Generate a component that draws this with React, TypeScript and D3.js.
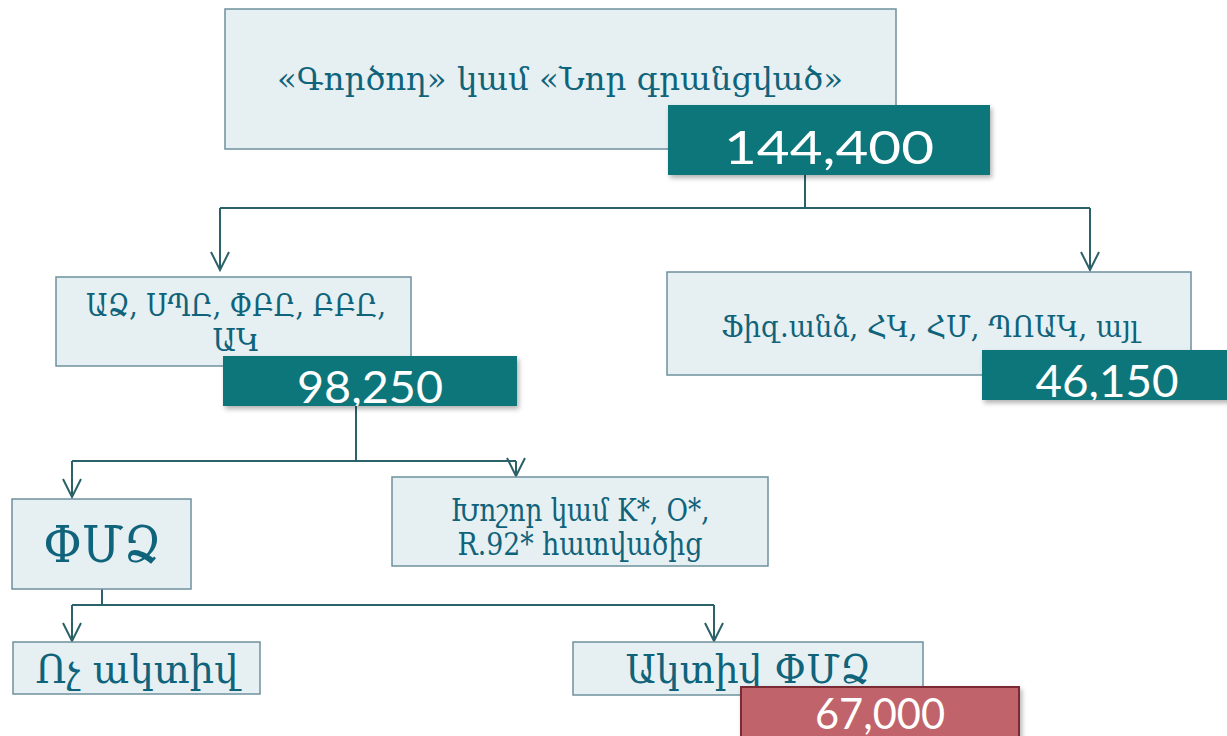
import React from "react";
import * as d3 from "d3";

// ---- data ----
const nodeIds = ["total", "legal", "other", "sme", "large", "inactive", "active"];
const nodeLabels: string[][] = [
  ["«Գործող» կամ «Նոր գրանցված»"],
  ["ԱՁ, ՍՊԸ, ՓԲԸ, ԲԲԸ,", "ԱԿ"],
  ["Ֆիզ.անձ, ՀԿ, ՀՄ, ՊՈԱԿ, այլ"],
  ["ՓՄՁ"],
  ["Խոշոր կամ K*, O*,", "R.92* հատվածից"],
  ["Ոչ ակտիվ"],
  ["Ակտիվ ՓՄՁ"],
];
const nodeValues: (number | null)[] = [144400, 98250, 46150, null, null, null, 67000];
const links: [string, string[]][] = [
  ["total", ["legal", "other"]],
  ["legal", ["sme", "large"]],
  ["sme", ["inactive", "active"]],
];

// ---- layout (positions / sizes) ----
type Box = { x: number; y: number; w: number; h: number };
type Layout = {
  box: Box;
  lines: { y: number; w: number }[];
  fs: number;
  tx: number;
  val?: { box: Box; y: number; w: number; fs: number; red?: boolean };
};
const layout: Record<string, Layout> = {
  total: {
    box: { x: 225, y: 9, w: 671, h: 140 }, fs: 31, tx: 560,
    lines: [{ y: 90, w: 566 }],
    val: { box: { x: 668, y: 105, w: 322, h: 70 }, y: 164, w: 210, fs: 46 },
  },
  legal: {
    box: { x: 56, y: 277, w: 355, h: 89 }, fs: 31, tx: 236,
    lines: [{ y: 316, w: 300 }, { y: 351, w: 47 }],
    val: { box: { x: 223, y: 356, w: 294, h: 50 }, y: 403, w: 146, fs: 45 },
  },
  other: {
    box: { x: 667, y: 272, w: 524, h: 103 }, fs: 30, tx: 930,
    lines: [{ y: 337, w: 418 }],
    val: { box: { x: 982, y: 350, w: 250, h: 50 }, y: 397, w: 143, fs: 45 },
  },
  sme: {
    box: { x: 12, y: 499, w: 179, h: 90 }, fs: 50, tx: 102,
    lines: [{ y: 562, w: 118 }],
  },
  large: {
    box: { x: 392, y: 477, w: 376, h: 89 }, fs: 31, tx: 580,
    lines: [{ y: 521, w: 259 }, { y: 555, w: 245 }],
  },
  inactive: {
    box: { x: 13, y: 642, w: 247, h: 52 }, fs: 39, tx: 137,
    lines: [{ y: 683, w: 203 }],
  },
  active: {
    box: { x: 573, y: 642, w: 350, h: 53 }, fs: 39, tx: 748,
    lines: [{ y: 683, w: 245 }],
    val: { box: { x: 741, y: 687, w: 278, h: 60 }, y: 729, w: 130, fs: 42, red: true },
  },
};
const connectors: Record<string, { stub: [number, number, number]; barY: number; arrows: [number, number][] }> = {
  total: { stub: [805, 175, 208], barY: 208, arrows: [[220, 270], [1090, 270]] },
  legal: { stub: [356, 406, 461], barY: 461, arrows: [[72, 497], [516, 476]] },
  sme: { stub: [102, 589, 605], barY: 605, arrows: [[72, 641], [714, 641]] },
};

const C = {
  boxFill: "#e6eff2",
  boxStroke: "#6e919d",
  text: "#0f637a",
  teal: "#07767a",
  line: "#2b6169",
  red: "#c0636a",
  redStroke: "#7a2b30",
};
const armFont = '"DejaVu Serif Condensed", "DejaVu Serif", serif';
const numFont = 'Lato, "Open Sans", sans-serif';
const fmt = d3.format(",");

export default function App() {
  const idx = (id: string) => nodeIds.indexOf(id);
  const arrowHead = (x: number, tip: number) =>
    d3.line()([[x - 9, tip - 18], [x, tip], [x + 9, tip - 18]]) as string;

  return (
    <svg
      width={1227}
      height={736}
      style={{ position: "absolute", left: 0, top: 0, display: "block", background: "#fff" }}
    >
      <defs>
        <filter id="sh" x="-10%" y="-10%" width="130%" height="140%">
          <feDropShadow dx="2" dy="3" stdDeviation="2.5" floodColor="#000" floodOpacity="0.3" />
        </filter>
        {nodeIds.map((id) => {
          const v = layout[id].val;
          if (!v) return null;
          return (
            <clipPath id={`clip-${id}`} key={id}>
              <rect x={v.box.x} y={v.box.y} width={v.box.w} height={v.box.h} />
            </clipPath>
          );
        })}
      </defs>

      {/* connectors */}
      {links.map(([from, tos]) => {
        const c = connectors[from];
        const xs = c.arrows.map((a) => a[0]).concat([c.stub[0]]);
        const x0 = d3.min(xs) as number;
        const x1 = d3.max(xs) as number;
        return (
          <g key={from} stroke={C.line} strokeWidth={2} fill="none">
            <line x1={c.stub[0]} x2={c.stub[0]} y1={c.stub[1]} y2={c.stub[2]} />
            <line x1={x0} x2={x1} y1={c.barY} y2={c.barY} />
            {c.arrows.map(([x, tip], i) => (
              <g key={tos[i]}>
                <line x1={x} x2={x} y1={c.barY} y2={tip} />
                <path d={arrowHead(x, tip)} />
              </g>
            ))}
          </g>
        );
      })}

      {/* boxes */}
      {nodeIds.map((id) => {
        const L = layout[id];
        const labels = nodeLabels[idx(id)];
        return (
          <g key={id}>
            <rect
              x={L.box.x}
              y={L.box.y}
              width={L.box.w}
              height={L.box.h}
              fill={C.boxFill}
              stroke={C.boxStroke}
              strokeWidth={1.5}
            />
            {labels.map((t, i) => (
              <text
                key={i}
                x={L.tx}
                y={L.lines[i].y}
                textAnchor="middle"
                fontFamily={armFont}
                fontSize={L.fs}
                fill={C.text}
                textLength={L.lines[i].w}
                lengthAdjust="spacingAndGlyphs"
              >
                {t}
              </text>
            ))}
          </g>
        );
      })}

      {/* value boxes */}
      {nodeIds.map((id) => {
        const v = layout[id].val;
        const value = nodeValues[idx(id)];
        if (!v || value == null) return null;
        return (
          <g key={`v-${id}`}>
            <rect
              x={v.box.x}
              y={v.box.y}
              width={v.box.w}
              height={v.box.h}
              fill={v.red ? C.red : C.teal}
              stroke={v.red ? C.redStroke : "none"}
              strokeWidth={v.red ? 2 : 0}
              filter="url(#sh)"
            />
            <text
              x={v.box.x + v.box.w / 2}
              y={v.y}
              textAnchor="middle"
              fontFamily={numFont}
              fontSize={v.fs}
              fill="#fff"
              clipPath={`url(#clip-${id})`}
              textLength={v.w}
              lengthAdjust="spacingAndGlyphs"
            >
              {fmt(value)}
            </text>
          </g>
        );
      })}
    </svg>
  );
}
